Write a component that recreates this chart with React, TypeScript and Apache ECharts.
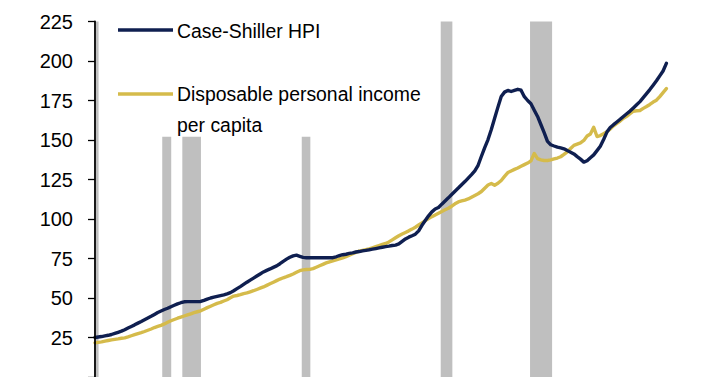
import React, { useEffect, useRef } from "react";
import * as echarts from "echarts";

// Quarterly observations 1975Q1 .. 2018Q2
const quarters: string[] = [];
for (let y = 1975; y <= 2018; y++) {
  for (let q = 1; q <= 4; q++) {
    if (y === 2018 && q > 2) break;
    quarters.push(`${y}Q${q}`);
  }
}

const caseShillerHPI = [
  25.0, 25.3, 25.6, 26.0,
  26.4, 26.9, 27.6, 28.3,
  29.0, 29.9, 31.0, 32.0,
  33.0, 34.1, 35.1, 36.2,
  37.3, 38.4, 39.6, 40.8,
  41.8, 42.7, 43.5, 44.5,
  45.4, 46.3, 47.0, 47.6,
  47.7, 47.7, 47.7, 47.7,
  47.8, 48.5, 49.3, 50.0,
  50.5, 51.0, 51.5, 52.0,
  52.6, 53.4, 54.6, 55.9,
  57.2, 58.6, 60.0, 61.3,
  62.6, 63.9, 65.2, 66.5,
  67.5, 68.4, 69.4, 70.3,
  71.7, 73.2, 74.6, 75.8,
  76.7, 77.1, 76.4, 75.7,
  75.5, 75.5, 75.5, 75.5,
  75.5, 75.5, 75.5, 75.5,
  75.5, 76.1, 76.8, 77.4,
  77.7, 78.2, 78.6, 79.1,
  79.4, 79.8, 80.1, 80.5,
  80.9, 81.3, 81.7, 82.1,
  82.5, 82.8, 83.2, 83.5,
  84.2, 85.8, 87.4, 88.5,
  89.4, 90.4, 92.5, 96.0,
  99.0, 102.0, 104.5, 106.3,
  107.3, 109.4, 111.4, 113.4,
  115.5, 117.6, 119.6, 121.7,
  123.7, 125.9, 128.1, 130.5,
  134.0, 139.7, 145.2, 150.3,
  156.6, 163.7, 170.8, 177.5,
  180.3, 181.4, 180.7, 181.4,
  182.1, 181.5, 177.4, 175.0,
  172.9, 168.8, 164.9, 159.8,
  154.6, 149.1, 147.0, 146.2,
  145.5, 145.0, 144.4, 143.3,
  142.3, 141.2, 139.5, 137.9,
  136.0, 136.9, 138.8, 140.6,
  143.3, 146.1, 150.3, 155.0,
  157.9, 159.7, 161.4, 163.1,
  164.9, 166.6, 168.3, 170.3,
  172.3, 174.3, 176.8, 179.3,
  181.9, 184.7, 187.5, 190.6,
  193.7, 198.5,
];

const disposableIncomePerCapita = [
  21.6, 21.9, 22.2, 22.7,
  23.1, 23.5, 23.8, 24.1,
  24.5, 24.8, 25.4, 26.1,
  26.8, 27.5, 28.1, 28.8,
  29.6, 30.4, 31.3, 32.0,
  32.7, 33.6, 34.6, 35.6,
  36.4, 37.2, 37.9, 38.6,
  39.3, 40.0, 40.7, 41.3,
  41.9, 42.9, 43.9, 44.8,
  45.7, 46.6, 47.2, 48.1,
  48.9, 50.1, 51.2, 51.6,
  52.1, 52.8, 53.2, 53.9,
  54.6, 55.4, 56.2, 57.0,
  58.0, 59.0, 60.0, 61.0,
  62.0, 62.8, 63.5, 64.3,
  65.2, 66.3, 67.3, 67.8,
  68.0, 68.1, 68.6, 69.5,
  70.4, 71.3, 72.2, 72.9,
  73.5, 74.1, 74.7, 75.4,
  76.2, 77.1, 78.0, 78.9,
  79.6, 80.1, 80.6, 81.1,
  81.8, 82.5, 83.2, 83.9,
  84.5, 85.5, 86.8, 88.1,
  89.4, 90.5, 91.5, 92.5,
  93.6, 94.8, 96.2, 97.6,
  99.0, 100.3, 101.5, 102.6,
  103.7, 104.8, 105.8, 106.8,
  108.1, 109.6, 110.8, 111.4,
  112.0, 112.7, 113.8, 114.9,
  116.0, 117.4, 119.5, 121.5,
  122.5, 121.4, 122.6, 124.4,
  127.0, 129.4, 130.4, 131.4,
  132.3, 133.4, 134.4, 135.4,
  136.8, 141.5, 138.2, 137.4,
  137.0, 137.0, 137.4, 138.0,
  138.6, 139.4, 140.9, 142.5,
  144.6, 146.6, 147.4, 148.2,
  149.7, 152.5, 153.8, 158.0,
  152.2, 152.8, 154.0, 155.2,
  157.0, 159.0, 160.5, 162.0,
  163.8, 165.0, 166.6, 168.2,
  168.5, 168.7, 170.0, 171.2,
  172.5, 174.0, 175.2, 177.5,
  180.0, 182.5,
];

// Recession shading: start / end (decimal years) and the height of each bar
const recessionStart = [1975.08, 1980.09, 1981.61, 1990.65, 2001.17, 2007.93];
const recessionEnd = [1975.27, 1980.77, 1983.02, 1991.3, 2002.05, 2009.6];
const recessionTop = [226, 152, 152, 152, 226, 226];

const yTicks = [25, 50, 75, 100, 125, 150, 175, 200, 225];

const seriesNames = ["Case-Shiller HPI", "Disposable personal income", "per capita"];

const NAVY = "#0f1f50";
const GOLD = "#d5bb4b";
const FONT = "'Liberation Sans', Arial, sans-serif";

const toYear = (q: string) => {
  const [y, qq] = q.split("Q");
  return Number(y) + (Number(qq) - 1) / 4;
};

export default function App() {
  const ref = useRef<HTMLDivElement>(null);

  useEffect(() => {
    if (!ref.current) return;
    const chart = echarts.init(ref.current, undefined, { renderer: "svg" });

    const hpiData = quarters.map((q, i) => [toYear(q), caseShillerHPI[i]]);
    const dpiData = quarters.map((q, i) => [toYear(q), disposableIncomePerCapita[i]]);

    const areas = recessionStart.map((s, i) => [
      { xAxis: s, yAxis: 0 },
      { xAxis: recessionEnd[i], yAxis: recessionTop[i] },
    ]);

    chart.setOption({
      animation: false,
      grid: { left: 95, top: 21.5, width: 607.7, height: 363.9, containLabel: false },
      xAxis: {
        type: "value",
        min: 1975,
        max: 2021,
        show: false,
        splitLine: { show: false },
      },
      yAxis: {
        type: "value",
        min: 0,
        max: yTicks[yTicks.length - 1],
        interval: 25,
        z: 10,
        axisLine: { show: true, lineStyle: { color: "#000", width: 1.8 } },
        axisTick: { show: true, length: 7, lineStyle: { color: "#000", width: 1.3 } },
        splitLine: { show: false },
        axisLabel: {
          margin: 22,
          color: "#000",
          fontSize: 20,
          fontFamily: FONT,
          formatter: (v: number) => (yTicks.includes(v) ? String(v) : ""),
        },
      },
      series: [
        {
          type: "line",
          name: seriesNames[0],
          data: hpiData,
          showSymbol: false,
          z: 3,
          lineStyle: { color: NAVY, width: 3.4, join: "round", cap: "round" },
          itemStyle: { color: NAVY },
          markArea: {
            silent: true,
            z: 1,
            itemStyle: { color: "#bfbfbf", opacity: 1, borderWidth: 0 },
            emphasis: { disabled: true },
            label: { show: false },
            data: areas,
          },
        },
        {
          type: "line",
          name: seriesNames[1] + " " + seriesNames[2],
          data: dpiData,
          showSymbol: false,
          z: 2,
          lineStyle: { color: GOLD, width: 3.4, join: "round", cap: "round" },
          itemStyle: { color: GOLD },
        },
      ],
      graphic: [
        {
          type: "line",
          shape: { x1: 118, y1: 30, x2: 173, y2: 30 },
          style: { stroke: NAVY, lineWidth: 3.4 },
        },
        {
          type: "text",
          x: 177,
          y: 31,
          scaleY: 1.08,
          style: {
            text: seriesNames[0],
            fill: "#000",
            font: `19.4px ${FONT}`,
            verticalAlign: "middle",
            align: "left",
          },
        },
        {
          type: "line",
          shape: { x1: 118, y1: 94, x2: 173, y2: 94 },
          style: { stroke: GOLD, lineWidth: 3.4 },
        },
        {
          type: "text",
          x: 177,
          y: 94,
          scaleY: 1.08,
          style: {
            text: seriesNames[1],
            fill: "#000",
            font: `19.4px ${FONT}`,
            verticalAlign: "middle",
            align: "left",
          },
        },
        {
          type: "text",
          x: 177,
          y: 124.5,
          scaleY: 1.08,
          style: {
            text: seriesNames[2],
            fill: "#000",
            font: `19.4px ${FONT}`,
            verticalAlign: "middle",
            align: "left",
          },
        },
      ],
    });

    return () => chart.dispose();
  }, []);

  return (
    <div
      ref={ref}
      style={{ position: "fixed", left: 0, top: 0, width: 718, height: 377, background: "#fff" }}
    />
  );
}
